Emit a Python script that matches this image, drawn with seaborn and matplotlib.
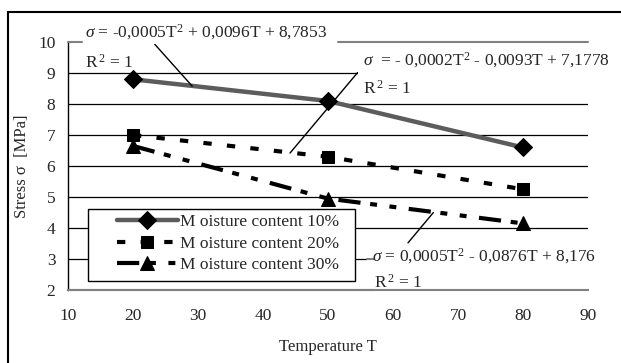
import numpy as np
import pandas as pd
import seaborn as sns
import matplotlib
matplotlib.use('Agg')
import matplotlib.pyplot as plt
from matplotlib.patches import Rectangle

# datos
temperatura = [20, 50, 80]
tension_10 = [8.8, 8.1, 6.6]
tension_20 = [7.0, 6.3, 5.25]
tension_30 = [6.65, 4.95, 4.15]
series = ['M oisture content 10%', 'M oisture content 20%', 'M oisture content 30%']

ecuaciones = [r'$\sigma$ = -0,0005T$^2$ + 0,0096T + 8,7853',
              r'$\sigma$  = - 0,0002T$^2$ - 0,0093T + 7,1778',
              r'$\sigma$ = 0,0005T$^2$ - 0,0876T + 8,176']
r2 = r'R$^{\,2}$ = 1'

x_ticks = [10, 20, 30, 40, 50, 60, 70, 80, 90]
y_ticks = [2, 3, 4, 5, 6, 7, 8, 9, 10]

sns.set_style('white')
plt.rcParams['font.family'] = ['Liberation Serif', 'DejaVu Serif']
plt.rcParams['mathtext.fontset'] = 'custom'
plt.rcParams['mathtext.rm'] = 'Liberation Serif'
plt.rcParams['mathtext.it'] = 'Liberation Serif:italic'
plt.rcParams['lines.scale_dashes'] = False

df = pd.DataFrame({
    'T': temperatura * 3,
    'sigma': tension_10 + tension_20 + tension_30,
    'serie': [series[0]] * 3 + [series[1]] * 3 + [series[2]] * 3,
})

fig = plt.figure(figsize=(6.21, 3.63), dpi=100)
ax = fig.add_axes([0.1095, 0.201, 0.8375, 0.683])

# lineas de la rejilla (la de 10 es gris, ver abajo)
for y in y_ticks[1:-1]:
    ax.axhline(y, color='black', lw=0.9, zorder=1)

estilos = [
    dict(color='#5c5c5c', lw=3.2, marker='D', markersize=9, linestyle='-'),
    dict(color='black', lw=3.0, marker='s', markersize=9, linestyle=(0, (6, 11))),
    dict(color='black', lw=3.0, marker='^', markersize=10, linestyle=(0, (16, 7, 5, 9, 5, 9))),
]
for s, st in zip(series, estilos):
    sub = df[df['serie'] == s]
    sns.lineplot(data=sub, x='T', y='sigma', ax=ax, label=s,
                 markerfacecolor='black', markeredgecolor='black', zorder=3, **st)

ax.set_xlim(10, 90)
ax.set_ylim(2, 10)
ax.set_xticks(x_ticks)
ax.set_yticks(y_ticks)
ax.tick_params(axis='both', labelsize=12.5, length=3.6, width=0.9, direction='out',
               color='black', pad=5.5)
ax.tick_params(axis='x', pad=9)
for k in ['top', 'right']:
    ax.spines[k].set_visible(False)
ax.spines['left'].set_color('black')
ax.spines['left'].set_linewidth(1.0)
ax.spines['bottom'].set_color('#808080')
ax.spines['bottom'].set_linewidth(1.5)
ax.set_xlabel('Temperature T', fontsize=12, labelpad=11)
ax.set_ylabel('Stress σ  [MPa]', fontsize=12, labelpad=6)

# etiquetas de las lineas de tendencia
caja = dict(facecolor='white', edgecolor='none', pad=1.5)
ax.annotate(ecuaciones[0], xy=(29.1, 8.58), xytext=(12.6, 10.32), fontsize=12.5,
            va='center', ha='left', bbox=caja, annotation_clip=False, zorder=4,
            arrowprops=dict(arrowstyle='-', color='black', lw=1.0,
                            shrinkA=0, shrinkB=0, relpos=(0.28, 0.0)))
ax.text(12.6, 9.35, r2, fontsize=12.5, va='center', ha='left', zorder=4)

ax.annotate(ecuaciones[1], xy=(44.15, 6.42), xytext=(55.4, 9.42), fontsize=12.5,
            va='center', ha='left', bbox=dict(facecolor='white', edgecolor='none', pad=4),
            annotation_clip=False, zorder=2,
            arrowprops=dict(arrowstyle='-', color='black', lw=1.0,
                            shrinkA=0, shrinkB=0, relpos=(0.0, 0.2)))
ax.text(55.4, 8.48, r2, fontsize=12.5, va='center', ha='left', zorder=4)

ax.annotate(ecuaciones[2], xy=(66.2, 4.5), xytext=(56.8, 3.1), fontsize=12.5,
            va='center', ha='left', annotation_clip=False, zorder=4,
            arrowprops=dict(arrowstyle='-', color='black', lw=1.0,
                            shrinkA=0, shrinkB=0, relpos=(0.14, 0.9)))
ax.text(57.0, 2.22, r2, fontsize=12.5, va='center', ha='left', zorder=4)
ax.add_patch(Rectangle((56.0, 1.93), 40, 1.25, facecolor='white', edgecolor='none',
                       zorder=2, clip_on=False))
# lineas grises junto a las etiquetas
ax.plot([56.0, 57.0], [3.0, 3.0], color='#808080', lw=1.5, zorder=3, clip_on=False)
ax.plot([10, 57.0], [2.0, 2.0], color='#808080', lw=1.5, zorder=3, clip_on=False)
ax.plot([10, 12.1], [10.0, 10.0], color='#808080', lw=1.5, zorder=3, clip_on=False)
ax.plot([51.5, 90], [10.0, 10.0], color='#808080', lw=1.5, zorder=3, clip_on=False)

# leyenda: marco dibujado aparte
ax.add_patch(Rectangle((88 / 621, 1 - 281 / 363), 267 / 621, 72 / 363,
                       transform=fig.transFigure, facecolor='white', edgecolor='black',
                       lw=1.0, zorder=4.5, clip_on=False))
leg = ax.legend(loc='center left', bbox_to_anchor=(117 / 621, 1 - 243.5 / 363),
                bbox_transform=fig.transFigure, borderaxespad=0, borderpad=0,
                fontsize=12.5, frameon=False, handlelength=3.5,
                handletextpad=0.1, labelspacing=0.3)
leg.set_zorder(5)

# marco exterior
fig.add_artist(Rectangle((8 / 621, -0.1), 1.2, 1.1 - 12 / 363, transform=fig.transFigure,
                         facecolor='none', edgecolor='black', lw=1.5))

fig.savefig('out.png', dpi=100)
